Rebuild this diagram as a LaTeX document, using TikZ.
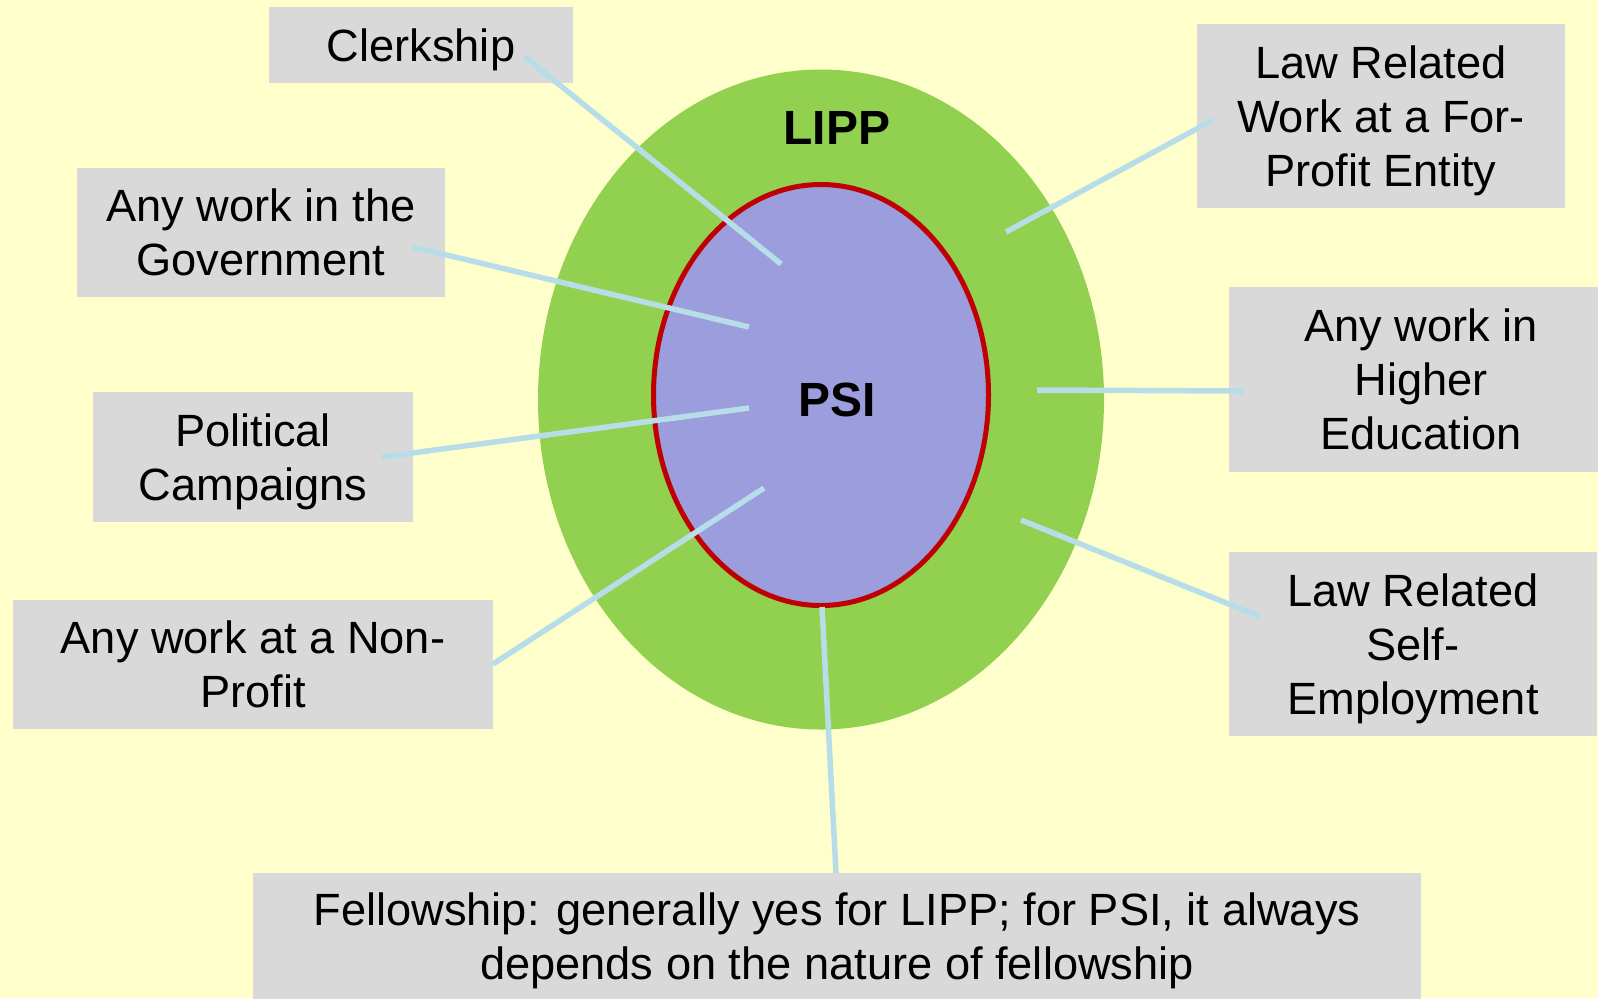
\documentclass[tikz,border=0pt]{standalone}
\usepackage{fontspec}
\setmainfont{Liberation Sans}
\usetikzlibrary{shapes.geometric}

\definecolor{paper}{HTML}{FFFFCC}
\definecolor{lippgreen}{HTML}{92D050}
\definecolor{psiblue}{HTML}{9B9DDC}
\definecolor{psired}{HTML}{C00000}
\definecolor{boxgray}{HTML}{D9D9D9}
\definecolor{linkblue}{HTML}{B7DEE8}

\tikzset{
  infobox/.style={fill=boxgray, align=center, inner sep=0pt, text depth=0pt,
    font=\fontsize{22.6}{27}\selectfont},
  ringlabel/.style={font=\fontsize{24}{28}\selectfont\bfseries},
  link/.style={draw=linkblue, line width=2.75pt}
}

\begin{document}
\begin{tikzpicture}[x=0.5pt,y=-0.5pt]
\fill[paper] (0,0) rectangle (1598,998);
\useasboundingbox (0,0) rectangle (1598,998);

% the two rings
\node[ellipse, fill=lippgreen, inner sep=0pt, minimum width=283pt, minimum height=330pt] (lipp) at (821,399.5) {};
\node[ellipse, fill=psiblue, draw=psired, line width=2.5pt, inner sep=0pt, minimum width=167.5pt, minimum height=210.5pt] (psi) at (821,395) {};
\node[ringlabel] (lipptext) at (837,127.5) {LIPP};
\node[ringlabel] (psitext) at (837,400) {PSI};

% left column
\node[infobox, minimum width=152pt, minimum height=38pt] (clerk) at (421,45) {Clerkship};
\node[infobox, minimum width=184pt, minimum height=64.5pt] (gov) at (261,232.5) {Any work in the\\Government};
\node[infobox, minimum width=160pt, minimum height=65pt] (pol) at (253,457) {Political\\Campaigns};
\node[infobox, minimum width=240pt, minimum height=64.5pt] (nonprofit) at (253,664.5) {Any work at a Non-\\Profit};

% right column
\node[infobox, minimum width=184pt, minimum height=92pt] (forprofit) at (1381,116) {Law Related\\Work at a For-\\Profit Entity};
\node[infobox, minimum width=192pt, minimum height=92.5pt] (higher) at (1421,379.5) {Any work in\\Higher\\Education};
\node[infobox, minimum width=184pt, minimum height=92pt] (selfemp) at (1413,644) {Law Related\\Self-\\Employment};

% bottom
\node[infobox, minimum width=584pt, minimum height=63.5pt] (fellow) at (837,936.5) {Fellowship: generally yes for LIPP; for PSI, it always\\depends on the nature of fellowship};

% line ends
\coordinate (clerk-a) at (525,57);      \coordinate (clerk-b) at (781,264);
\coordinate (gov-a) at (413,247);       \coordinate (gov-b) at (749,327);
\coordinate (pol-a) at (382,457);       \coordinate (pol-b) at (749,408);
\coordinate (nonprofit-a) at (493,664); \coordinate (nonprofit-b) at (764,488);
\coordinate (forprofit-a) at (1213,120);\coordinate (forprofit-b) at (1006,232);
\coordinate (higher-a) at (1244,391);   \coordinate (higher-b) at (1037,390);
\coordinate (selfemp-a) at (1261,617);  \coordinate (selfemp-b) at (1021,520);
\coordinate (fellow-a) at (836,873);    \coordinate (fellow-b) at (822,607);

\draw[link] (clerk-a) -- (clerk-b);
\draw[link] (gov-a) -- (gov-b);
\draw[link] (pol-a) -- (pol-b);
\draw[link] (nonprofit-a) -- (nonprofit-b);
\draw[link] (forprofit-a) -- (forprofit-b);
\draw[link] (higher-a) -- (higher-b);
\draw[link] (selfemp-a) -- (selfemp-b);
\draw[link] (fellow-a) -- (fellow-b);
\end{tikzpicture}
\end{document}
